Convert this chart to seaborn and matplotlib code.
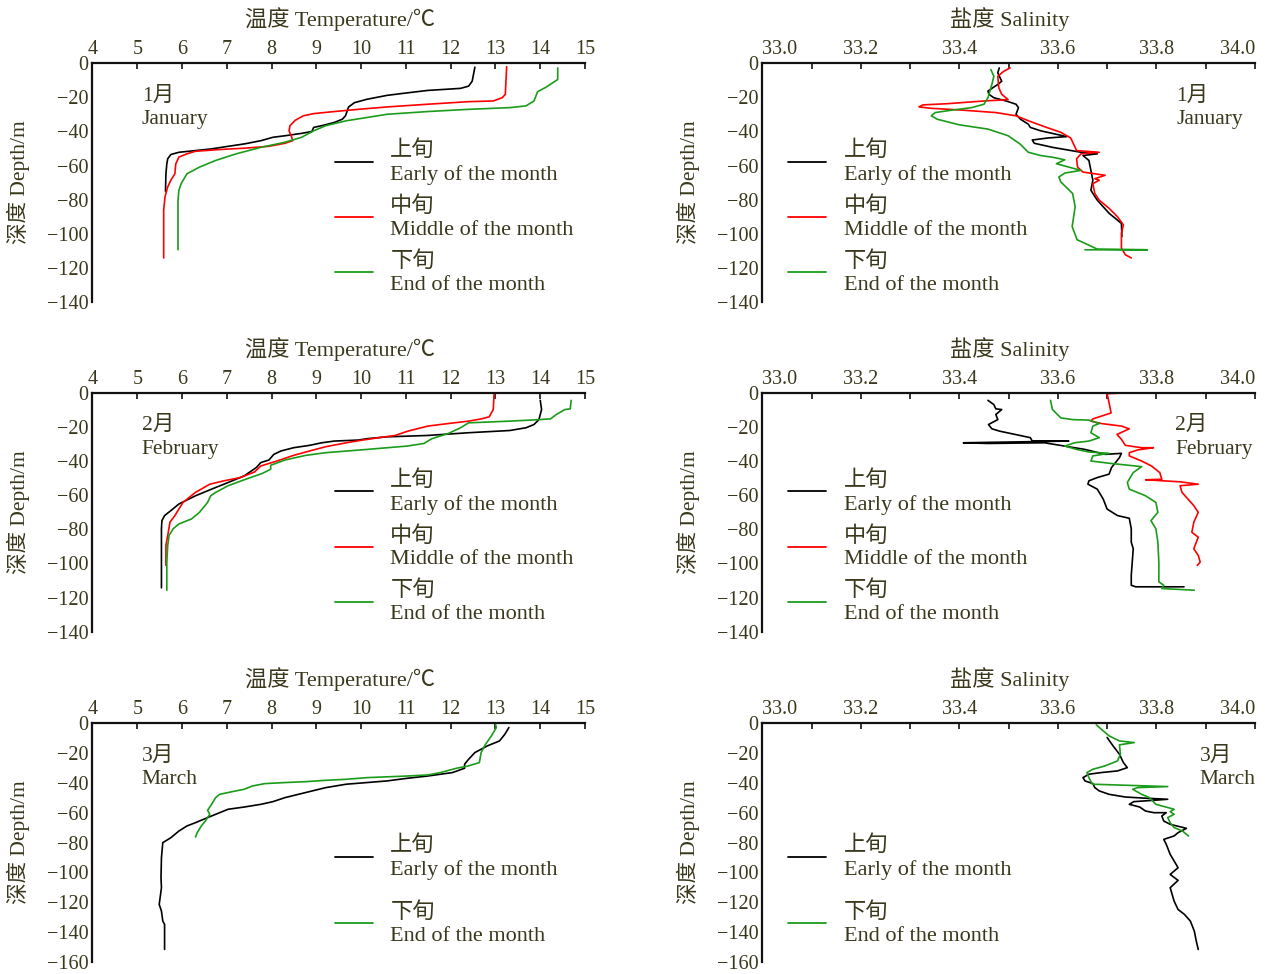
import numpy as np
import pandas as pd
import matplotlib
matplotlib.use('Agg')
import matplotlib.pyplot as plt
from matplotlib.lines import Line2D
from matplotlib.ticker import FixedLocator, FixedFormatter
import seaborn as sns

# ---------------- data ----------------
# January temperature
jan_t_early = [12.54, 12.48, 12.40, 12.22, 11.86, 11.49, 11.04, 10.58, 10.13, 9.85, 9.72, 9.65, 9.58, 9.40,
               9.12, 8.94, 8.90, 8.67, 8.30, 8.03, 7.76, 7.39, 7.03, 6.66, 6.30, 5.93, 5.75, 5.68, 5.66, 5.64, 5.63]
jan_t_early_d = [-2.3, -10.5, -13.4, -14.7, -15.3, -15.9, -17.3, -18.8, -21.1, -23.1, -25.6, -30.8, -32.8, -34.7,
                 -36.6, -37.6, -40.0, -41.1, -42.5, -43.4, -45.4, -47.3, -48.7, -50.2, -51.2, -52.2, -53.5, -56.0, -59.0, -64.8, -75.0]
jan_t_mid = [13.25, 13.22, 13.15, 12.95, 12.40, 11.49, 10.58, 9.94, 9.40, 8.94, 8.71, 8.53, 8.41, 8.39, 8.45, 8.47,
             8.30, 7.94, 7.39, 6.84, 6.30, 6.11, 5.93, 5.86, 5.84, 5.75, 5.68, 5.62, 5.59, 5.59]
jan_t_mid_d = [-2.0, -18.2, -20.2, -22.1, -22.5, -24.0, -25.6, -27.0, -28.3, -29.5, -30.8, -33.4, -36.6, -39.6, -43.4, -45.4,
               -46.9, -48.7, -49.8, -50.6, -51.6, -53.1, -55.0, -59.0, -64.8, -68.6, -72.5, -78.3, -86.1, -114.2]
jan_t_end = [14.39, 14.39, 14.13, 13.94, 13.86, 13.68, 13.32, 12.40, 11.49, 10.58, 10.13, 9.67, 9.21, 8.94, 8.67,
             8.30, 7.76, 7.21, 6.75, 6.39, 6.11, 5.98, 5.93, 5.91, 5.91]
jan_t_end_d = [-2.7, -9.5, -14.0, -16.7, -22.1, -25.0, -26.0, -27.0, -28.3, -29.9, -31.8, -33.7, -36.6, -39.6, -43.4,
               -46.3, -49.3, -53.1, -57.0, -60.9, -64.8, -70.6, -74.5, -80.3, -109.4]

# January salinity
jan_s_early = [33.481, 33.478, 33.486, 33.478, 33.466, 33.458, 33.460, 33.470, 33.495, 33.515, 33.520, 33.515, 33.524,
               33.540, 33.544, 33.565, 33.618, 33.580, 33.548, 33.552, 33.589, 33.647, 33.680, 33.651, 33.663, 33.667,
               33.671, 33.667, 33.680, 33.704, 33.729, 33.730]
jan_s_early_d = [-2.7, -5.6, -10.5, -12.4, -14.7, -16.3, -18.2, -20.2, -22.1, -24.0, -26.0, -29.9, -32.8,
                 -35.7, -37.6, -39.6, -43.0, -43.8, -45.0, -46.9, -49.3, -52.2, -53.1, -54.1, -57.0, -62.8,
                 -68.6, -74.5, -80.3, -88.0, -93.9, -101.6]
jan_s_mid = [33.503, 33.490, 33.478, 33.480, 33.486, 33.499, 33.450, 33.375, 33.326, 33.318, 33.343, 33.408, 33.474,
             33.515, 33.540, 33.573, 33.606, 33.626, 33.635, 33.638, 33.684, 33.647, 33.638, 33.640, 33.651, 33.696,
             33.675, 33.684, 33.671, 33.675, 33.684, 33.692, 33.704, 33.721, 33.733, 33.729, 33.729, 33.737, 33.749]
jan_s_mid_d = [-2.7, -4.7, -7.6, -14.3, -18.2, -21.3, -22.1, -23.7, -24.4, -25.6, -26.4, -27.5, -28.9,
               -30.8, -33.7, -37.2, -40.5, -43.8, -49.3, -51.2, -52.2, -53.1, -56.0, -60.9, -63.8, -65.7,
               -67.7, -68.6, -70.6, -76.4, -80.3, -82.2, -85.1, -90.0, -94.8, -99.7, -108.4, -112.3, -114.2]
jan_s_end = [33.464, 33.470, 33.466, 33.462, 33.458, 33.450, 33.425, 33.384, 33.351, 33.343, 33.355, 33.400, 33.458,
             33.499, 33.523, 33.540, 33.565, 33.589, 33.614, 33.597, 33.622, 33.647, 33.614, 33.602, 33.606, 33.630,
             33.635, 33.629, 33.639, 33.680, 33.782, 33.655]
jan_s_end_d = [-3.7, -7.6, -12.4, -16.3, -20.2, -24.0, -26.0, -27.5, -28.9, -30.8, -32.8, -36.1, -38.6,
               -42.5, -47.3, -52.2, -54.1, -55.1, -56.6, -58.9, -60.9, -62.8, -64.4, -66.7, -69.6, -76.4,
               -84.2, -95.8, -103.5, -109.0, -109.4, -109.4]

# February temperature
feb_t_early = [14.00, 14.03, 13.97, 13.86, 13.68, 13.32, 12.40, 11.49, 10.58, 10.13, 9.94, 9.40, 9.12, 8.85, 8.49,
               8.21, 8.05, 7.94, 7.76, 7.66, 7.39, 7.03, 6.66, 6.30, 5.93, 5.75, 5.61, 5.55, 5.54, 5.54]
feb_t_early_d = [-4.3, -9.7, -15.6, -18.5, -20.4, -22.0, -23.3, -24.9, -25.7, -26.8, -27.6, -28.2, -29.2, -30.7, -32.1,
                 -34.0, -36.0, -39.3, -40.8, -43.7, -48.6, -52.5, -56.4, -60.3, -65.1, -69.0, -71.9, -74.9, -79.7, -114.3]
feb_t_mid = [12.97, 12.95, 12.86, 12.68, 12.40, 11.95, 11.49, 11.31, 11.04, 10.76, 10.40, 10.03, 9.67, 9.21, 8.85,
             8.49, 8.12, 7.76, 7.62, 7.30, 6.94, 6.62, 6.30, 6.02, 5.84, 5.73, 5.68, 5.64, 5.64]
feb_t_mid_d = [0.0, -9.7, -14.0, -15.2, -16.5, -17.9, -19.4, -20.6, -22.4, -24.9, -26.2, -27.6, -29.2, -31.5, -34.0,
               -36.6, -39.9, -42.8, -46.3, -49.6, -51.5, -53.5, -58.3, -64.2, -71.9, -75.8, -83.6, -89.4, -101.1]
feb_t_end = [14.69, 14.67, 14.55, 14.36, 14.23, 13.77, 13.32, 12.40, 12.22, 11.95, 11.58, 11.40, 11.04, 10.13, 9.21,
             8.76, 8.30, 7.98, 7.98, 7.80, 7.39, 7.03, 6.75, 6.64, 6.57, 6.39, 6.21, 5.93, 5.80, 5.71, 5.68, 5.66, 5.66]
feb_t_end_d = [-4.3, -9.3, -9.7, -12.6, -15.2, -15.9, -16.5, -17.5, -20.4, -23.7, -26.8, -29.6, -31.1, -33.1, -35.0,
               -36.6, -39.3, -42.4, -44.7, -47.1, -50.9, -54.4, -58.3, -60.3, -64.2, -70.0, -73.9, -76.8, -79.7, -83.6,
               -89.4, -99.2, -115.7]

# February salinity
feb_s_early = [33.458, 33.470, 33.474, 33.486, 33.474, 33.478, 33.459, 33.466, 33.482, 33.523, 33.544, 33.548, 33.622,
               33.490, 33.408, 33.458, 33.573, 33.655, 33.696, 33.729, 33.725, 33.717, 33.709, 33.704, 33.680, 33.663,
               33.661, 33.680, 33.692, 33.700, 33.721, 33.745, 33.749, 33.749, 33.753, 33.751, 33.749, 33.749, 33.758,
               33.856]
feb_s_early_d = [-4.3, -6.8, -9.3, -9.7, -12.6, -15.6, -18.5, -21.0, -22.4, -24.9, -26.2, -28.2, -28.2,
                 -28.8, -29.2, -29.6, -29.2, -33.1, -36.0, -35.4, -37.9, -40.8, -43.7, -47.6, -49.6, -51.5,
                 -53.5, -56.4, -62.2, -68.1, -71.9, -73.5, -79.7, -87.5, -91.4, -99.2, -106.9, -112.8, -113.7,
                 -113.7]
feb_s_mid = [33.733, 33.700, 33.704, 33.708, 33.671, 33.667, 33.688, 33.729, 33.745, 33.720, 33.729, 33.737, 33.770,
             33.794, 33.762, 33.745, 33.745, 33.770, 33.790, 33.807, 33.811, 33.778, 33.848, 33.885, 33.848, 33.852,
             33.864, 33.876, 33.885, 33.876, 33.872, 33.885, 33.881, 33.876, 33.885, 33.889, 33.883]
feb_s_mid_d = [0.0, -0.4, -5.8, -11.7, -15.2, -16.5, -17.9, -19.4, -21.0, -24.3, -27.2, -30.7, -32.1,
               -32.1, -33.4, -35.0, -36.9, -39.9, -42.8, -46.7, -50.6, -50.9, -52.1, -53.5, -54.4, -58.3,
               -62.2, -66.1, -70.0, -75.8, -81.7, -84.6, -87.5, -91.4, -95.3, -99.2, -101.1]
feb_s_end = [33.585, 33.589, 33.606, 33.630, 33.663, 33.684, 33.671, 33.667, 33.684, 33.663, 33.634, 33.614, 33.638,
             33.663, 33.704, 33.671, 33.667, 33.704, 33.770, 33.753, 33.741, 33.745, 33.778, 33.799, 33.803, 33.789,
             33.799, 33.803, 33.805, 33.805, 33.815, 33.811, 33.877]
feb_s_end_d = [-4.3, -9.7, -14.6, -15.6, -15.9, -17.9, -19.4, -23.3, -26.2, -28.2, -29.2, -31.1, -33.1,
               -34.6, -35.4, -36.9, -39.9, -41.2, -43.2, -46.7, -52.5, -56.4, -60.3, -64.2, -70.0, -74.9,
               -79.7, -87.5, -99.2, -110.8, -112.8, -114.7, -115.7]

# March temperature
mar_t_early = [13.30, 13.21, 13.09, 12.82, 12.54, 12.40, 12.31, 12.31, 12.04, 11.49, 11.04, 10.58, 10.13, 9.67, 9.21,
               8.76, 8.30, 8.03, 7.76, 7.39, 7.03, 6.84, 6.57, 6.30, 6.11, 5.93, 5.75, 5.57, 5.54, 5.53, 5.54, 5.49,
               5.54, 5.57, 5.61, 5.61]
mar_t_early_d = [-2.9, -7.4, -11.9, -15.2, -19.7, -24.2, -27.5, -30.2, -33.1, -35.4, -36.9, -38.7, -39.8, -40.9, -43.2,
                 -46.5, -49.9, -52.6, -54.4, -56.2, -57.7, -60.0, -63.3, -66.7, -68.9, -72.3, -76.8, -80.1, -90.2,
                 -103.6, -110.3, -121.5, -126.0, -132.7, -134.9, -151.7]
mar_t_end = [13.00, 13.02, 12.91, 12.77, 12.68, 12.64, 12.40, 12.13, 11.77, 11.49, 11.04, 10.13, 9.67, 9.21, 8.76,
             8.30, 7.85, 7.57, 7.39, 7.12, 6.84, 6.75, 6.66, 6.57, 6.62, 6.52, 6.43, 6.34, 6.30]
mar_t_end_d = [-0.7, -2.9, -8.5, -14.5, -19.7, -26.4, -28.6, -30.2, -33.1, -34.7, -35.4, -36.5, -37.6, -38.3, -39.2,
               -39.8, -40.5, -42.1, -44.3, -45.9, -47.7, -49.9, -54.4, -58.4, -61.1, -65.6, -68.9, -73.4, -76.3]

# March salinity
mar_s_early = [33.700, 33.712, 33.725, 33.733, 33.741, 33.721, 33.688, 33.663, 33.651, 33.655, 33.671, 33.675, 33.684,
               33.704, 33.737, 33.778, 33.823, 33.795, 33.754, 33.745, 33.766, 33.778, 33.795, 33.820, 33.811, 33.815,
               33.828, 33.861, 33.844, 33.836, 33.815, 33.820, 33.828, 33.844, 33.828, 33.844, 33.828, 33.836, 33.844,
               33.857, 33.869, 33.877, 33.881, 33.885]
mar_s_early_d = [-9.6, -15.2, -20.8, -26.4, -29.8, -32.0, -33.1, -34.2, -36.5, -38.7, -40.5, -43.2, -45.4,
                 -47.7, -49.5, -50.3, -51.0, -51.7, -52.6, -54.4, -56.2, -58.9, -60.0, -60.0, -62.2, -65.6,
                 -67.8, -70.5, -73.4, -75.6, -77.9, -81.2, -87.9, -96.9, -101.4, -105.4, -110.3, -119.3, -124.9,
                 -128.2, -132.7, -139.4, -146.1, -151.7]
mar_s_end = [33.678, 33.688, 33.704, 33.725, 33.755, 33.725, 33.727, 33.721, 33.696, 33.671, 33.659, 33.663, 33.670,
             33.823, 33.762, 33.752, 33.770, 33.786, 33.799, 33.836, 33.828, 33.836, 33.823, 33.828, 33.836, 33.853,
             33.865]
mar_s_end_d = [-1.1, -4.0, -8.5, -11.9, -13.0, -14.5, -20.8, -25.3, -28.6, -30.9, -33.1, -36.5, -40.9,
               -42.5, -43.2, -44.3, -47.7, -49.9, -54.4, -57.7, -59.3, -61.1, -63.3, -66.7, -70.0, -72.3,
               -75.6]

months = ['1月\nJanuary', '2月\nFebruary', '3月\nMarch']
period_labels = ['上旬\nEarly of the month', '中旬\nMiddle of the month', '下旬\nEnd of the month']
temp_ticks = list(range(4, 16))
sal_ticks = [33.0, 33.1, 33.2, 33.3, 33.4, 33.5, 33.6, 33.7, 33.8, 33.9, 34.0]
sal_ticklabels = ['33.0', '', '33.2', '', '33.4', '', '33.6', '', '33.8', '', '34.0']

temp_data = [
    [(jan_t_early, jan_t_early_d, 0), (jan_t_mid, jan_t_mid_d, 1), (jan_t_end, jan_t_end_d, 2)],
    [(feb_t_early, feb_t_early_d, 0), (feb_t_mid, feb_t_mid_d, 1), (feb_t_end, feb_t_end_d, 2)],
    [(mar_t_early, mar_t_early_d, 0), (mar_t_end, mar_t_end_d, 2)],
]
sal_data = [
    [(jan_s_early, jan_s_early_d, 0), (jan_s_mid, jan_s_mid_d, 1), (jan_s_end, jan_s_end_d, 2)],
    [(feb_s_early, feb_s_early_d, 0), (feb_s_mid, feb_s_mid_d, 1), (feb_s_end, feb_s_end_d, 2)],
    [(mar_s_early, mar_s_early_d, 0), (mar_s_end, mar_s_end_d, 2)],
]

# ---------------- style ----------------
sns.set_style('white')
fam = ['Liberation Serif', 'Noto Sans CJK SC', 'DejaVu Sans']
plt.rcParams['font.family'] = fam
plt.rcParams['axes.unicode_minus'] = True
TXT = '#3a381c'
colors = ['#000000', '#ff0000', '#1a9c1a']

fig = plt.figure(figsize=(12.74, 9.74), dpi=100)

bottoms = [0.690, 0.3515, 0.0125]
lefts = [0.0726, 0.5984]
W, H = 0.3866, 0.245


def style_axes(ax, ymin):
    for s in ['right', 'bottom']:
        ax.spines[s].set_visible(False)
    for s in ['top', 'left']:
        ax.spines[s].set_linewidth(1.6)
        ax.spines[s].set_color('#111111')
    ax.xaxis.set_ticks_position('top')
    ax.xaxis.set_label_position('top')
    ax.set_ylim(ymin, 0)
    ax.set_yticks(np.arange(ymin, 1, 20))
    ax.tick_params(axis='both', direction='in', length=4, width=1.2, color='#111111',
                   labelsize=14.5, labelcolor=TXT, pad=3)
    ax.tick_params(axis='x', top=True, bottom=False)
    ax.set_ylabel('深度 Depth/m', fontsize=15.5, color=TXT, va='center')
    ax.yaxis.set_label_coords(-0.151, 0.5)
    ax.set_xlabel('')
    ax.grid(False)


def add_legend(ax, used, x, y, spacing):
    handles = [Line2D([], [], color=colors[i], lw=1.3) for i in used]
    labels = [period_labels[i] for i in used]
    leg = ax.legend(handles, labels, loc='upper left', bbox_to_anchor=(x, y), frameon=False,
                    fontsize=16, handlelength=1.7, handletextpad=0.8, labelspacing=spacing,
                    borderpad=0, borderaxespad=0)
    for t in leg.get_texts():
        t.set_color(TXT)
        t.set_linespacing(1.28)


month_x_right = [0.84, 0.838, 0.888]

for r in range(3):
    ymin = -160 if r == 2 else -140
    used = [d[2] for d in temp_data[r]]
    spacing = 0.5 if r < 2 else 1.0
    leg_y = 0.678 if r < 2 else 0.53

    # temperature
    ax = fig.add_axes([lefts[0], bottoms[r], W, H])
    for vals, deps, k in temp_data[r]:
        sns.lineplot(x=vals, y=deps, sort=False, estimator=None, color=colors[k], lw=1.2, ax=ax)
    ax.set_xlim(4, 15)
    ax.xaxis.set_major_locator(FixedLocator(temp_ticks))
    style_axes(ax, ymin)
    ax.text(0.503, 1.185, '温度 Temperature/℃', transform=ax.transAxes, ha='center', va='center',
            fontsize=16, color=TXT)
    ax.text(0.10, 0.903, months[r], transform=ax.transAxes, ha='left', va='top',
            fontsize=15.5, color=TXT, linespacing=1.35)
    add_legend(ax, used, 0.492, leg_y, spacing)

    # salinity
    ax = fig.add_axes([lefts[1], bottoms[r], W, H])
    for vals, deps, k in sal_data[r]:
        sns.lineplot(x=vals, y=deps, sort=False, estimator=None, color=colors[k], lw=1.2, ax=ax)
    ax.set_xlim(33.0, 34.0)
    ax.xaxis.set_major_locator(FixedLocator(sal_ticks))
    ax.xaxis.set_major_formatter(FixedFormatter(sal_ticklabels))
    style_axes(ax, ymin)
    labs = ax.get_xticklabels()
    labs[0].set_horizontalalignment('left')
    labs[-1].set_horizontalalignment('right')
    ax.text(0.503, 1.185, '盐度 Salinity', transform=ax.transAxes, ha='center', va='center',
            fontsize=16, color=TXT)
    ax.text(month_x_right[r], 0.903, months[r], transform=ax.transAxes, ha='left', va='top',
            fontsize=15.5, color=TXT, linespacing=1.35)
    add_legend(ax, used, 0.053, leg_y, spacing)

fig.savefig('out.png', dpi=100)
